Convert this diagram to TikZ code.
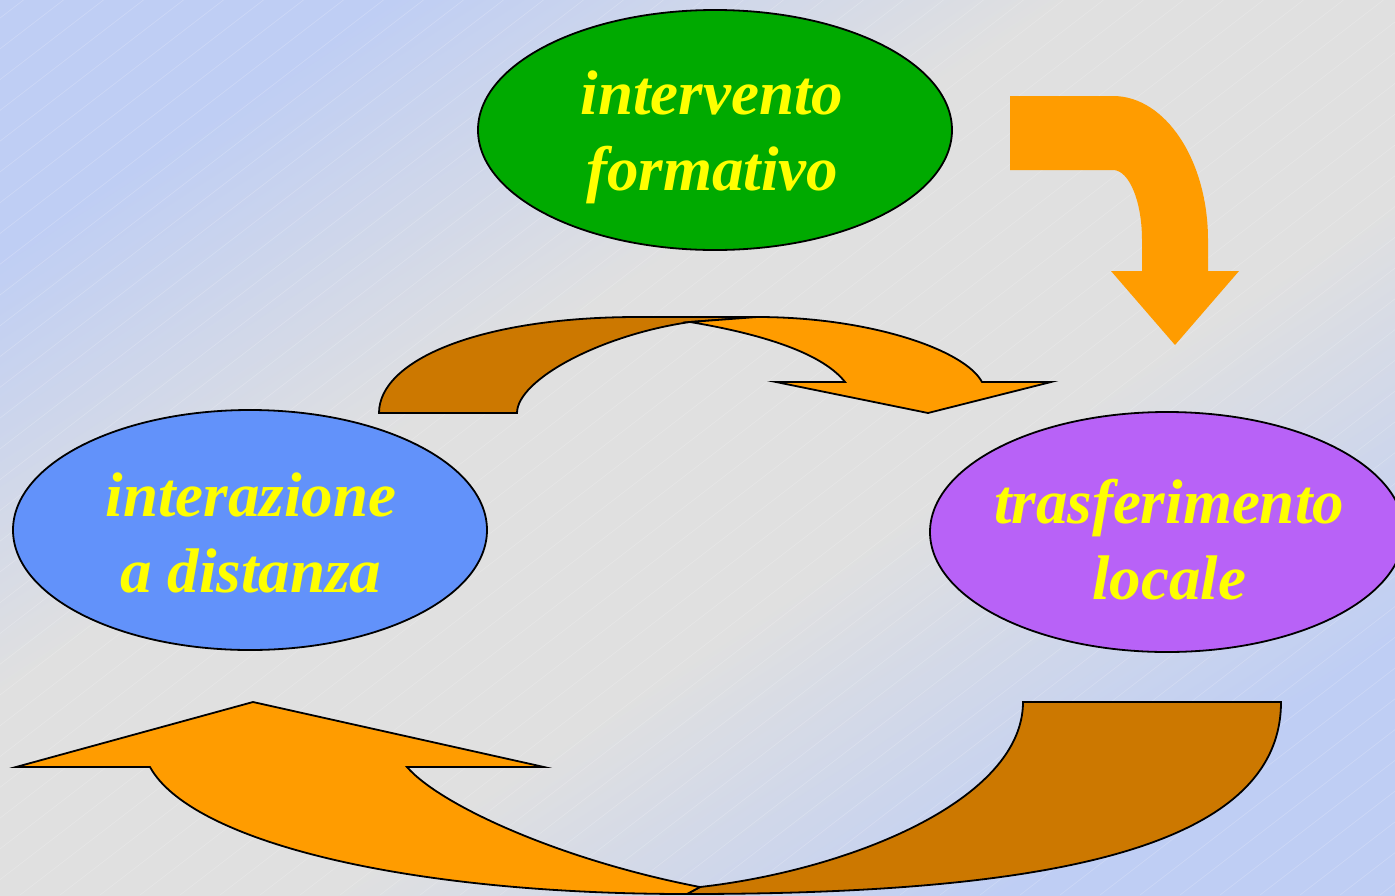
\documentclass[tikz,border=0pt]{standalone}
\usepackage{fontspec}
\setmainfont{Liberation Serif}
\usetikzlibrary{shapes.geometric}
\definecolor{bgblue}{HTML}{BFCEF4}
\definecolor{bggrey}{HTML}{E0E0E0}
\definecolor{lorange}{HTML}{FF9C00}
\definecolor{dorange}{HTML}{CC7800}
\definecolor{egreen}{HTML}{00AA00}
\definecolor{eblue}{HTML}{6292FA}
\definecolor{epurple}{HTML}{B862F7}
\definecolor{txtyellow}{HTML}{FFFF00}
\pgfdeclareverticalshading{bgshade}{100bp}{color(0bp)=(bgblue); color(25bp)=(bgblue); color(42bp)=(bggrey); color(58bp)=(bggrey); color(75bp)=(bgblue); color(100bp)=(bgblue)}
\begin{document}
\begin{tikzpicture}[x=1pt,y=-1pt,
  bubble/.style={ellipse, draw=black, line width=1.8pt, minimum width=474pt, minimum height=240pt, inner sep=0pt},
  bubbletext/.style={text=txtyellow, font=\fontsize{63}{76}\selectfont\bfseries\itshape, align=center, inner sep=0pt},
  lightband/.style={fill=lorange, draw=black, line width=1.8pt, line join=miter},
  darkband/.style={fill=dorange, draw=black, line width=1.8pt, line join=miter},
  bendarrow/.style={fill=lorange},
  hatch/.style={white, opacity=0.22, line width=0.6pt}
]
\useasboundingbox (0,0) rectangle (1395,895);
\clip (0,0) rectangle (1395,895);
\shade[shading=bgshade, shading angle=33] (0,0) rectangle (1395,895);
\foreach \c in {-1180,-1140,...,1400} \draw[hatch] (\c,895) -- ++(1163.5,-895);

% bent arrow top right
\fill[bendarrow] (1010,96) -- (1113,96) .. controls (1165.5,96) and (1208,160.5) .. (1208,240) -- (1208,271) -- (1239,271) -- (1175,345) -- (1111,271) -- (1142,271) -- (1142,240) .. controls (1142,201) and (1129,170) .. (1113,170) -- (1010,170) -- cycle;

% curved arrow (top)
\draw[darkband] (379,413) .. controls (379,360) and (480,317) .. (638,317) -- (757,317) -- (690,322) .. controls (600,335) and (517,380) .. (517,413) -- cycle;
\draw[lightband] (690,322) .. controls (750,332) and (820,350) .. (845,382) -- (776,382) -- (928,413) -- (1051,382) -- (982,382) .. controls (965,350) and (870,317) .. (757,317) -- cycle;

% curved arrow (bottom)
\draw[darkband] (1023,702) -- (1281,702) .. controls (1281,852) and (1037,894) .. (687,894) -- (700,887) .. controls (850,870) and (1023,800) .. (1023,702) -- cycle;
\draw[lightband] (150,767) -- (16,767) -- (253,702) -- (544,767) -- (407,767) .. controls (440,805) and (560,860) .. (700,887) -- (687,894) .. controls (400,894) and (190,840) .. (150,767) -- cycle;

% ellipses
\node[bubble, fill=egreen] (formativo) at (715,130) {};
\node[bubbletext] (formativotext) at (712,137) {intervento\\formativo};
\node[bubble, fill=eblue] (distanza) at (250,530) {};
\node[bubbletext] (distanzatext) at (251,533) {interazione\\a distanza};
\node[bubble, fill=epurple] (locale) at (1167,532) {};
\node[bubbletext] (localetext) at (1169,540) {trasferimento\\locale};
\end{tikzpicture}
\end{document}
